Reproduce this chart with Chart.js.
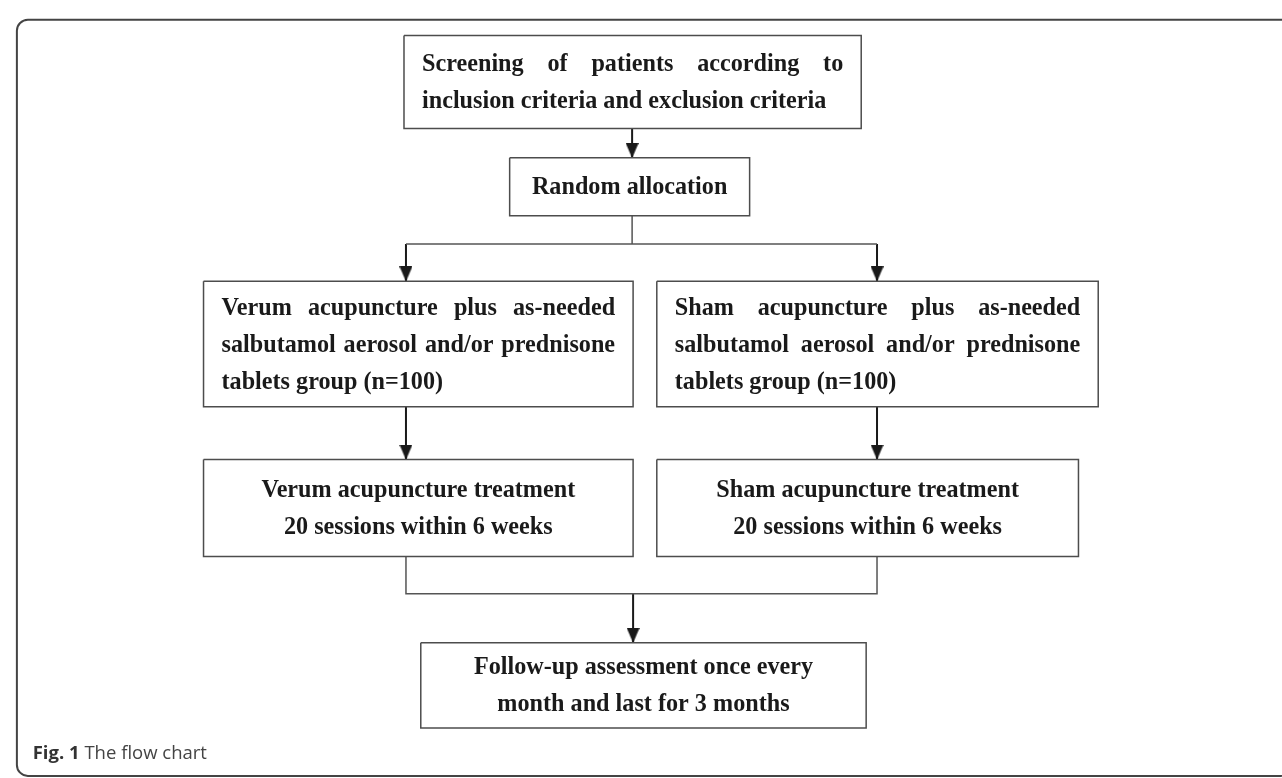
<!DOCTYPE html>
<html>
<head>
<meta charset="utf-8">
<title>Fig. 1 The flow chart</title>
<script src="https://cdn.jsdelivr.net/npm/chart.js@4.4.1/dist/chart.umd.min.js"></script>
<style>
    html, body { margin: 0; padding: 0; background: #fff; }
    #wrap { width: 1282px; height: 778px; position: relative; }
</style>
</head>
<body>
<div id="wrap"><canvas id="flowChart"></canvas></div>
<script>
// ========================================
// DATA
// ========================================
const nodeLabels = [
    ['Screening of patients according to', 'inclusion criteria and exclusion criteria'],
    ['Random allocation'],
    ['Verum acupuncture plus as-needed', 'salbutamol aerosol and/or prednisone', 'tablets group (n=100)'],
    ['Sham acupuncture plus as-needed', 'salbutamol aerosol and/or prednisone', 'tablets group (n=100)'],
    ['Verum acupuncture treatment', '20 sessions within 6 weeks'],
    ['Sham acupuncture treatment', '20 sessions within 6 weeks'],
    ['Follow-up assessment once every', 'month and last for 3 months']
];
const nodeAlign = ['justify', 'center', 'justify', 'justify', 'center', 'center', 'center'];
const captionBold = 'Fig. 1';
const captionText = 'The flow chart';

// ========================================
// LAYOUT (page units, 0..1282 x 0..778)
// ========================================
// [left, top, right, bottom] for each node
const nodeBoxes = [
    [401, 28, 864, 123],
    [508, 153, 751, 212],
    [198, 279, 633, 407],
    [657, 279, 1104, 407],
    [198, 461, 633, 560],
    [657, 461, 1084, 560],
    [418, 648, 869, 735]
];
// plain joins (no arrow)
const joinLines = [
    [[632, 212], [632, 241]],
    [[403, 241], [880, 241]],
    [[403, 560], [403, 598], [880, 598], [880, 560]]
];
// arrow shafts, last point is the tip
const arrowLines = [
    [[632, 123], [632, 153]],
    [[403, 241], [403, 279]],
    [[880, 241], [880, 279]],
    [[403, 407], [403, 461]],
    [[880, 407], [880, 461]],
    [[633, 598], [633, 648]]
];

const TEXT_FONT = 'bold 26px "Liberation Serif", "Times New Roman", serif';
const TEXT_SX = 0.93;   // narrow look of the original type
const TEXT_PAD = 18;
const LINE_H = 37;
const ARROW_W = 13;
const ARROW_H = 15;

// ========================================
// HELPERS
// ========================================
function toPoints(list) {
    return list.map(p => ({ x: p[0], y: p[1] }));
}

function boxOutline(b) {
    return toPoints([[b[0], b[1]], [b[2], b[1]], [b[2], b[3]], [b[0], b[3]], [b[0], b[1]]]);
}

function makeArrowHead() {
    const c = document.createElement('canvas');
    c.width = ARROW_W;
    c.height = ARROW_H;
    const g = c.getContext('2d');
    g.fillStyle = '#1a1a1a';
    g.beginPath();
    g.moveTo(0, 0);
    g.lineTo(ARROW_W, 0);
    g.lineTo(ARROW_W / 2, ARROW_H);
    g.closePath();
    g.fill();
    return c;
}

function drawScaled(ctx, text, x, y, align) {
    ctx.save();
    ctx.translate(x, y);
    ctx.scale(TEXT_SX, 1);
    ctx.textAlign = align;
    ctx.fillText(text, 0, 0);
    ctx.restore();
}

function drawJustified(ctx, text, x1, x2, y) {
    const words = text.split(' ');
    const widths = words.map(w => ctx.measureText(w).width * TEXT_SX);
    const total = widths.reduce((a, b) => a + b, 0);
    const gap = words.length > 1 ? (x2 - x1 - total) / (words.length - 1) : 0;
    let cx = x1;
    words.forEach((w, i) => {
        drawScaled(ctx, w, cx, y, 'left');
        cx += widths[i] + gap;
    });
}

// ========================================
// PLUGINS
// ========================================
const framePlugin = {
    id: 'figFrame',
    beforeDatasetsDraw(chart) {
        const { ctx, scales: { x, y } } = chart;
        const l = x.getPixelForValue(9), t = y.getPixelForValue(12);
        const r = x.getPixelForValue(1300), b = y.getPixelForValue(784);
        ctx.save();
        ctx.strokeStyle = '#444';
        ctx.lineWidth = 2;
        ctx.beginPath();
        ctx.roundRect(l, t, r - l, b - t, 11);
        ctx.stroke();
        ctx.restore();
    },
    afterDatasetsDraw(chart) {
        const { ctx, scales: { x, y } } = chart;
        ctx.save();
        ctx.textBaseline = 'alphabetic';
        ctx.textAlign = 'left';
        const cx = x.getPixelForValue(25), cy = y.getPixelForValue(767);
        ctx.font = 'bold 18.5px "Open Sans", "Noto Sans", sans-serif';
        ctx.fillStyle = '#333';
        ctx.fillText(captionBold, cx, cy);
        const w = ctx.measureText(captionBold + ' ').width;
        ctx.font = '18.5px "Open Sans", "Noto Sans", sans-serif';
        ctx.fillStyle = '#444';
        ctx.fillText(captionText, cx + w, cy);
        ctx.restore();
    }
};

const textPlugin = {
    id: 'boxText',
    afterDatasetsDraw(chart) {
        const { ctx, scales: { x, y } } = chart;
        ctx.save();
        ctx.font = TEXT_FONT;
        ctx.fillStyle = '#1a1a1a';
        ctx.textBaseline = 'middle';
        nodeLabels.forEach((lines, i) => {
            const [l, t, r, b] = nodeBoxes[i];
            const x1 = x.getPixelForValue(l) + TEXT_PAD;
            const x2 = x.getPixelForValue(r) - TEXT_PAD;
            const cy = (y.getPixelForValue(t) + y.getPixelForValue(b)) / 2 + 1;
            const y0 = cy - (lines.length - 1) * LINE_H / 2;
            lines.forEach((line, k) => {
                const ly = y0 + k * LINE_H;
                const last = k === lines.length - 1;
                if (nodeAlign[i] === 'justify') {
                    if (last) drawScaled(ctx, line, x1, ly, 'left');
                    else drawJustified(ctx, line, x1, x2, ly);
                } else {
                    drawScaled(ctx, line, (x1 + x2) / 2, ly, 'center');
                }
            });
        });
        ctx.restore();
    }
};

// ========================================
// DATASETS
// ========================================
const lineBase = { type: 'line', pointRadius: 0, tension: 0, fill: false, clip: false };

const datasets = [];
nodeBoxes.forEach(b => {
    datasets.push(Object.assign({}, lineBase, {
        data: boxOutline(b), borderColor: '#4d4d4d', borderWidth: 1.5,
        borderJoinStyle: 'miter'
    }));
});
joinLines.forEach(seg => {
    datasets.push(Object.assign({}, lineBase, {
        data: toPoints(seg), borderColor: '#555', borderWidth: 1.5,
        borderJoinStyle: 'miter'
    }));
});
arrowLines.forEach(seg => {
    datasets.push(Object.assign({}, lineBase, {
        data: toPoints(seg), borderColor: '#1a1a1a', borderWidth: 2
    }));
});
const arrowHead = makeArrowHead();
datasets.push({
    type: 'scatter',
    data: arrowLines.map(seg => {
        const tip = seg[seg.length - 1];
        return { x: tip[0], y: tip[1] - ARROW_H / 2 };
    }),
    pointStyle: arrowHead,
    pointRadius: 7,
    clip: false
});

// ========================================
// CHART
// ========================================
new Chart(document.getElementById('flowChart'), {
    type: 'line',
    data: { datasets },
    options: {
        responsive: true,
        maintainAspectRatio: false,
        animation: false,
        events: [],
        layout: { padding: 0 },
        plugins: {
            legend: { display: false },
            tooltip: { enabled: false }
        },
        scales: {
            x: { type: 'linear', min: 0, max: 1282, display: false },
            y: { type: 'linear', min: 0, max: 778, reverse: true, display: false }
        }
    },
    plugins: [framePlugin, textPlugin]
});
</script>
</body>
</html>
